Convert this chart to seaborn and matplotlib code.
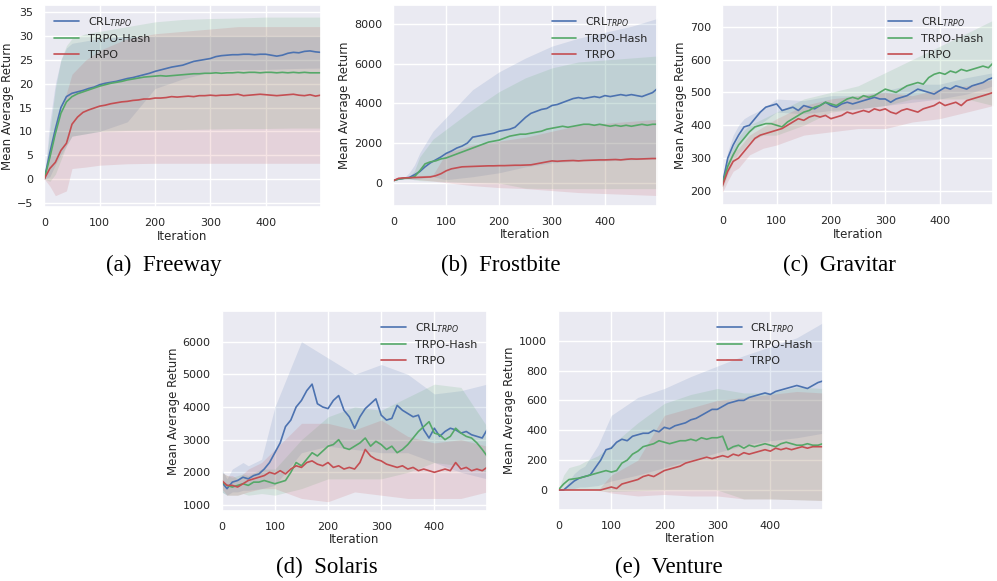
import numpy as np
import seaborn as sns
import matplotlib.pyplot as plt

iters = list(range(0, 500, 10)) + [499]
band_iters = [0, 10, 20, 30, 40, 50, 75, 100, 150, 200, 250, 300, 350, 400, 450, 499]

labels = ['CRL$_{TRPO}$', 'TRPO-Hash', 'TRPO']
colors = ['#4C72B0', '#55A868', '#C44E52']

# (a) Freeway
freeway_crl = [0, 5.5, 10.5, 15, 17.3, 18, 18.3, 18.6, 19, 19.3, 19.8, 20.1, 20.3, 20.5, 20.8, 21.1, 21.3, 21.6, 21.9, 22.2,
               22.6, 22.9, 23.2, 23.5, 23.7, 23.9, 24.3, 24.7, 24.9, 25.1, 25.3, 25.7, 25.9, 26, 26.1, 26.1, 26.2, 26.2, 26.1, 26.2,
               26.2, 26.0, 25.8, 26.0, 26.4, 26.6, 26.5, 26.8, 26.9, 26.7, 26.6]
freeway_hash = [0, 4.5, 9.5, 13.8, 16.2, 17.3, 17.9, 18.3, 18.7, 19.1, 19.5, 19.8, 20.1, 20.3, 20.5, 20.8, 21.0, 21.2, 21.4, 21.5,
                21.6, 21.7, 21.6, 21.7, 21.8, 21.9, 22.0, 22.1, 22.1, 22.2, 22.2, 22.3, 22.2, 22.3, 22.3, 22.4, 22.3, 22.4, 22.4, 22.3,
                22.4, 22.4, 22.3, 22.4, 22.3, 22.4, 22.3, 22.4, 22.3, 22.3, 22.3]
freeway_trpo = [0, 2.2, 3.5, 6, 7.5, 11.5, 13, 14, 14.5, 14.9, 15.3, 15.5, 15.8, 16.0, 16.2, 16.3, 16.5, 16.6, 16.8, 16.8,
                17.0, 17.0, 17.1, 17.3, 17.2, 17.3, 17.4, 17.3, 17.5, 17.5, 17.6, 17.5, 17.6, 17.6, 17.7, 17.8, 17.5, 17.6, 17.7, 17.8,
                17.7, 17.6, 17.5, 17.6, 17.7, 17.8, 17.6, 17.5, 17.7, 17.4, 17.6]
freeway_crl_lo = [0, 0.5, 3, 5, 7, 9, 9.5, 10, 12, 19, 21, 22.5, 23, 23, 23.2, 23.3]
freeway_crl_hi = [0, 12, 20, 25, 27.5, 28.5, 29, 29.5, 30, 30, 30, 30, 30, 30, 30, 30]
freeway_hash_lo = [0, -0.5, 1, 4, 7, 9, 9.5, 10, 10.2, 10.3, 10.4, 10.5, 10.6, 10.6, 10.7, 10.7]
freeway_hash_hi = [0, 10, 19, 25, 28, 29.5, 30.5, 31, 32, 33, 33.5, 33.7, 33.8, 34, 34, 34]
freeway_trpo_lo = [0, -1.5, -3.5, -3, -2.5, 2.2, 2.5, 2.9, 3.2, 3.3, 3.3, 3.3, 3.3, 3.3, 3.3, 3.3]
freeway_trpo_hi = [0, 5, 9, 14, 18, 22, 25, 27, 29.5, 30.5, 31, 31.5, 32, 32, 32, 32]

# (b) Frostbite
frostbite_crl = [100, 180, 220, 260, 400, 560, 800, 1000, 1150, 1300, 1480, 1600, 1750, 1850, 2000, 2300, 2350, 2400, 2450, 2500,
                 2600, 2650, 2700, 2800, 3050, 3300, 3500, 3600, 3700, 3750, 3900, 3950, 4050, 4150, 4250, 4300, 4250, 4300, 4350, 4300,
                 4400, 4350, 4400, 4450, 4400, 4450, 4400, 4350, 4450, 4550, 4750]
frostbite_hash = [100, 180, 220, 230, 300, 600, 950, 1050, 1100, 1200, 1250, 1350, 1450, 1550, 1650, 1750, 1850, 1950, 2050, 2100,
                  2150, 2250, 2350, 2400, 2450, 2450, 2500, 2550, 2600, 2700, 2750, 2800, 2850, 2800, 2850, 2900, 2950, 2950, 2900, 2950,
                  2900, 2850, 2900, 2850, 2900, 2850, 2900, 2950, 2900, 2950, 2950]
frostbite_trpo = [100, 220, 240, 250, 260, 270, 280, 290, 350, 450, 600, 700, 750, 800, 810, 820, 830, 840, 850, 850,
                  860, 860, 870, 880, 880, 890, 900, 950, 1000, 1050, 1100, 1080, 1100, 1110, 1120, 1100, 1120, 1130, 1140, 1150,
                  1150, 1160, 1170, 1150, 1180, 1200, 1190, 1200, 1210, 1220, 1220]
frostbite_crl_lo = [100, 180, 200, 180, 150, 200, 300, 150, 300, 500, 800, 1000, 1100, 1100, 1150, 1200]
frostbite_crl_hi = [100, 180, 250, 500, 900, 1500, 2600, 3300, 4700, 5600, 6300, 6900, 7300, 7600, 7900, 8300]
frostbite_hash_lo = [100, 180, 200, 200, 150, 100, 80, 50, 0, -20, -280, -300, -300, -300, -300, -300]
frostbite_hash_hi = [100, 180, 240, 300, 600, 1300, 2200, 2700, 3700, 4600, 5300, 5800, 6100, 6200, 6300, 6400]
frostbite_trpo_lo = [100, 180, 200, 200, 200, 150, 80, 0, -150, -250, -300, -400, -500, -550, -600, -650]
frostbite_trpo_hi = [100, 250, 280, 300, 320, 350, 400, 1500, 1900, 2100, 2300, 2600, 2900, 3000, 3100, 3200]

# (c) Gravitar
gravitar_crl = [220, 300, 340, 370, 395, 400, 420, 440, 455, 460, 465, 445, 450, 455, 445, 460, 455, 450, 460, 470,
                460, 455, 465, 470, 465, 470, 475, 480, 485, 480, 480, 470, 480, 485, 490, 500, 510, 505, 500, 495,
                505, 515, 510, 520, 515, 510, 520, 525, 530, 540, 545]
gravitar_hash = [220, 275, 310, 340, 360, 380, 395, 400, 405, 405, 400, 395, 410, 420, 430, 440, 445, 455, 460, 470,
                 465, 460, 470, 480, 485, 480, 490, 485, 490, 500, 510, 505, 500, 510, 520, 525, 530, 525, 545, 555,
                 560, 555, 565, 560, 570, 565, 570, 575, 580, 575, 590]
gravitar_trpo = [215, 260, 290, 300, 320, 340, 360, 370, 375, 380, 385, 390, 400, 410, 420, 415, 425, 430, 425, 430,
                 420, 425, 430, 440, 435, 440, 445, 440, 450, 445, 450, 440, 435, 445, 450, 445, 440, 450, 455, 460,
                 470, 460, 465, 470, 460, 475, 480, 485, 490, 495, 500]
gravitar_crl_lo = [210, 270, 310, 340, 365, 380, 410, 440, 435, 445, 450, 460, 470, 480, 495, 520]
gravitar_crl_hi = [230, 320, 370, 400, 420, 430, 450, 480, 475, 490, 490, 505, 525, 525, 545, 560]
gravitar_hash_lo = [205, 250, 290, 315, 330, 350, 370, 370, 400, 440, 450, 460, 480, 480, 480, 460]
gravitar_hash_hi = [235, 300, 335, 365, 385, 400, 420, 440, 480, 500, 520, 560, 600, 640, 680, 720]
gravitar_trpo_lo = [195, 230, 260, 270, 290, 310, 330, 340, 370, 380, 390, 390, 410, 420, 440, 460]
gravitar_trpo_hi = [235, 290, 320, 330, 350, 370, 395, 420, 460, 480, 490, 500, 490, 510, 520, 540]

# (d) Solaris
solaris_crl = [1700, 1500, 1700, 1750, 1850, 1800, 1900, 1950, 2100, 2300, 2600, 2900, 3400, 3600, 4000, 4200, 4500, 4700, 4100, 4000,
               3950, 4200, 4350, 3900, 3700, 3350, 3700, 3950, 4100, 4250, 3750, 3600, 3650, 4050, 3900, 3800, 3700, 3750, 3300, 3050,
               3350, 3100, 3250, 3350, 3300, 3200, 3250, 3150, 3100, 3050, 3300]
solaris_hash = [1700, 1600, 1550, 1600, 1650, 1600, 1700, 1700, 1750, 1700, 1650, 1700, 1750, 2000, 2300, 2200, 2400, 2600, 2500, 2650,
                2800, 2850, 3000, 2750, 2700, 2800, 2900, 3050, 2800, 2950, 2850, 2700, 2800, 2600, 2700, 2850, 3050, 3250, 3400, 3550,
                3200, 3150, 3000, 3100, 3350, 3200, 3100, 3050, 2900, 2700, 2500]
solaris_trpo = [1750, 1600, 1600, 1550, 1650, 1750, 1800, 1850, 1900, 2000, 1950, 2050, 1950, 2100, 2200, 2150, 2300, 2350, 2250, 2200,
                2300, 2150, 2200, 2100, 2150, 2100, 2300, 2700, 2500, 2400, 2350, 2250, 2200, 2150, 2200, 2100, 2150, 2050, 2100, 2050,
                2000, 2050, 2100, 2050, 2300, 2100, 2150, 2050, 2100, 2050, 2150]
solaris_crl_lo = [1400, 1300, 1400, 1400, 1450, 1450, 1500, 1600, 2600, 2800, 2700, 2600, 2600, 2300, 2000, 1800]
solaris_crl_hi = [2100, 1800, 2100, 2200, 2300, 2200, 2400, 4000, 6000, 5500, 5000, 5300, 5000, 4400, 4500, 4700]
solaris_hash_lo = [1400, 1300, 1300, 1300, 1350, 1300, 1350, 1300, 1500, 1800, 1800, 1800, 2000, 2300, 2200, 2000]
solaris_hash_hi = [2000, 1900, 1850, 1900, 1950, 1900, 2100, 2100, 3000, 3700, 4000, 3900, 4300, 4700, 4600, 3400]
solaris_trpo_lo = [1500, 1300, 1300, 1300, 1350, 1400, 1500, 1500, 1200, 1100, 1400, 1300, 1200, 1200, 1200, 1400]
solaris_trpo_hi = [2000, 1900, 1900, 1800, 1950, 2100, 2300, 2700, 3500, 3500, 3300, 3600, 3100, 2900, 3000, 2800]

# (e) Venture
venture_crl = [0, 0, 30, 60, 80, 90, 100, 150, 200, 270, 280, 320, 340, 330, 360, 370, 380, 380, 400, 390,
               420, 410, 430, 440, 450, 470, 480, 500, 520, 540, 540, 560, 580, 590, 600, 600, 620, 630, 640, 650,
               640, 660, 670, 680, 690, 700, 690, 680, 700, 720, 730]
venture_hash = [0, 40, 70, 75, 80, 90, 100, 110, 120, 130, 120, 130, 180, 200, 240, 260, 290, 300, 310, 330,
                320, 310, 320, 330, 330, 340, 330, 350, 340, 350, 350, 360, 270, 290, 300, 280, 300, 290, 300, 310,
                300, 290, 310, 320, 310, 300, 300, 310, 300, 300, 310]
venture_trpo = [0, 0, 0, 0, 0, 0, 0, 0, 0, 10, 20, 10, 40, 50, 60, 70, 90, 100, 90, 110,
                130, 140, 150, 160, 180, 190, 200, 210, 220, 210, 220, 230, 220, 240, 230, 250, 240, 250, 260, 270,
                260, 280, 270, 280, 270, 280, 290, 280, 290, 290, 290]
venture_crl_lo = [0, 0, 0, 10, 20, 20, 30, 60, 100, 150, 200, 250, 300, 330, 350, 380]
venture_crl_hi = [0, 0, 60, 110, 140, 160, 300, 500, 620, 680, 760, 830, 900, 960, 1020, 1120]
venture_hash_lo = [0, 0, 0, 0, 0, 0, -5, -10, -5, 0, 0, 0, -60, -60, -65, -70]
venture_hash_hi = [0, 100, 150, 160, 170, 190, 230, 300, 450, 580, 640, 680, 650, 650, 690, 680]
venture_trpo_lo = [0, 0, 0, 0, 0, 0, 0, -20, -40, -30, -40, -40, -60, -60, -65, -70]
venture_trpo_hi = [0, 0, 0, 0, 0, 0, 0, 100, 200, 500, 550, 600, 620, 640, 660, 650]


def draw_panel(ax, means, lows, highs, ylim, yticks, legend_loc):
    for m, lo, hi, c, lab in zip(means, lows, highs, colors, labels):
        ax.fill_between(band_iters, lo, hi, color=c, alpha=0.15, lw=0)
        sns.lineplot(x=iters, y=m, ax=ax, color=c, lw=1.2, label=lab)
    ax.set_xlim(0, 499)
    ax.set_ylim(*ylim)
    ax.set_xticks([0, 100, 200, 300, 400])
    ax.set_yticks(yticks)
    ax.set_xlabel('Iteration', fontsize=8.5, labelpad=1)
    ax.set_ylabel('Mean Average Return', fontsize=8.5, labelpad=2)
    ax.tick_params(labelsize=8, pad=2)
    ax.legend(loc=legend_loc, frameon=False, fontsize=8, handlelength=2.2)


sns.set_theme(style='darkgrid')
fig = plt.figure(figsize=(9.97, 5.81), dpi=100)


def px_rect(l, r, t, b):
    return [l / 997, 1 - b / 581, (r - l) / 997, (b - t) / 581]


ax_a = fig.add_axes(px_rect(44.3, 320.5, 5, 207))
ax_b = fig.add_axes(px_rect(393.3, 657.3, 5, 205.7))
ax_c = fig.add_axes(px_rect(722.3, 993.3, 5, 205))
ax_d = fig.add_axes(px_rect(221.7, 487, 311, 510.7))
ax_e = fig.add_axes(px_rect(558.3, 822.8, 311, 510))

draw_panel(ax_a, [freeway_crl, freeway_hash, freeway_trpo],
           [freeway_crl_lo, freeway_hash_lo, freeway_trpo_lo],
           [freeway_crl_hi, freeway_hash_hi, freeway_trpo_hi],
           (-5.88, 36.54), range(-5, 36, 5), 'upper left')
draw_panel(ax_b, [frostbite_crl, frostbite_hash, frostbite_trpo],
           [frostbite_crl_lo, frostbite_hash_lo, frostbite_trpo_lo],
           [frostbite_crl_hi, frostbite_hash_hi, frostbite_trpo_hi],
           (-1164, 8977), range(0, 8001, 2000), 'upper right')
draw_panel(ax_c, [gravitar_crl, gravitar_hash, gravitar_trpo],
           [gravitar_crl_lo, gravitar_hash_lo, gravitar_trpo_lo],
           [gravitar_crl_hi, gravitar_hash_hi, gravitar_trpo_hi],
           (157.4, 765.9), range(200, 701, 100), 'upper right')
draw_panel(ax_d, [solaris_crl, solaris_hash, solaris_trpo],
           [solaris_crl_lo, solaris_hash_lo, solaris_trpo_lo],
           [solaris_crl_hi, solaris_hash_hi, solaris_trpo_hi],
           (825, 6939), range(1000, 6001, 1000), 'upper right')
draw_panel(ax_e, [venture_crl, venture_hash, venture_trpo],
           [venture_crl_lo, venture_hash_lo, venture_trpo_lo],
           [venture_crl_hi, venture_hash_hi, venture_trpo_hi],
           (-134, 1199), range(0, 1001, 200), 'upper right')

# sub-captions under each panel
captions = ['(a)  Freeway', '(b)  Frostbite', '(c)  Gravitar', '(d)  Solaris', '(e)  Venture']
cap_xy = [(164, 265), (501, 265), (839, 265), (327, 567), (669, 567)]
for txt, (x, y) in zip(captions, cap_xy):
    fig.text(x / 997, 1 - y / 581, txt, ha='center', va='center',
             family='Liberation Serif', fontsize=16.5, color='black')

fig.savefig('out.png', dpi=100)
